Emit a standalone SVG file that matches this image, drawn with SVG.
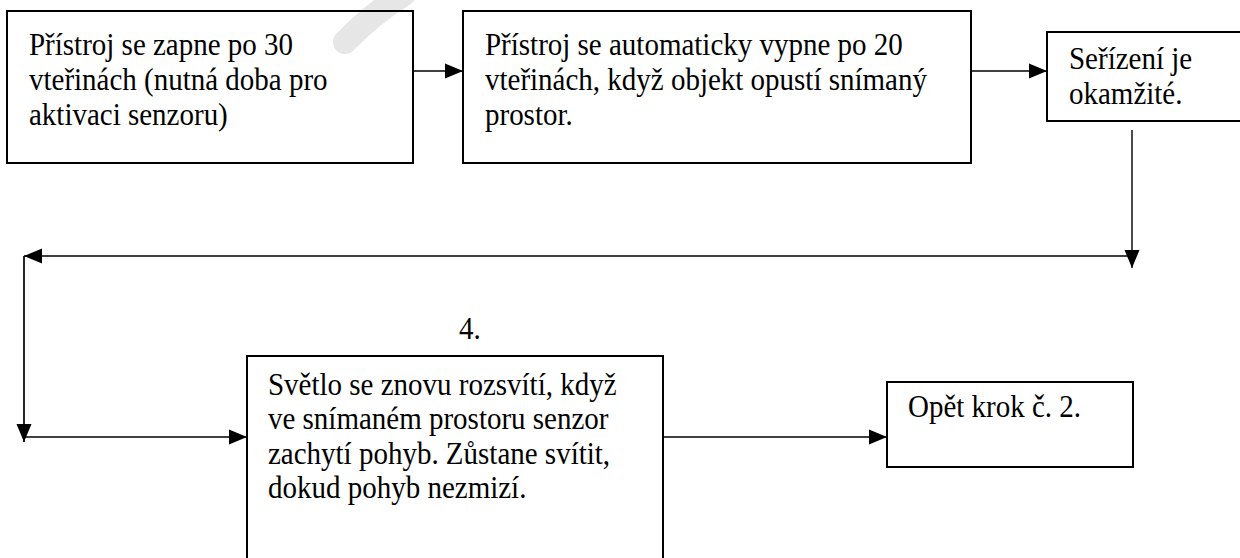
<svg xmlns="http://www.w3.org/2000/svg" width="1240" height="558" viewBox="0 0 1240 558">
<style>
.box{fill:none;stroke:#000;stroke-width:2}
.t{font-size:29px;fill:#000}
.c{fill:none;stroke:#000;stroke-width:1.7}
.thin{stroke-width:1.4}
</style>
<defs>
<marker id="ah" markerUnits="userSpaceOnUse" markerWidth="18" markerHeight="18" viewBox="0 0 18 18" refX="18" refY="9" orient="auto">
<path d="M0,1.5 L18,9 L0,16.5 Z" fill="#000"/>
</marker>
</defs>
<rect width="1240" height="558" fill="#fff"/>
<path d="M345 42 Q372 14 404 -6" fill="none" stroke="#e6e6e6" stroke-width="24" stroke-linecap="round"/>
<g font-family="Liberation Serif, Tinos, 'DejaVu Serif', serif">
<g id="n1">
<rect class="box" x="7" y="11" width="406" height="152"/>
<text class="t" x="29" y="55" transform="matrix(1 0 0 1.07 0 -3.85)">Přístroj se zapne po 30</text>
<text class="t" x="29" y="90" transform="matrix(1 0 0 1.07 0 -6.3)">vteřinách (nutná doba pro</text>
<text class="t" x="29" y="125" transform="matrix(1 0 0 1.07 0 -8.75)">aktivaci senzoru)</text>
</g>
<g id="n2">
<rect class="box" x="463" y="11" width="508" height="152"/>
<text class="t" x="485" y="55" transform="matrix(1 0 0 1.07 0 -3.85)">Přístroj se automaticky vypne po 20</text>
<text class="t" x="485" y="90" transform="matrix(1 0 0 1.07 0 -6.3)">vteřinách, když objekt opustí snímaný</text>
<text class="t" x="485" y="125" transform="matrix(1 0 0 1.07 0 -8.75)">prostor.</text>
</g>
<g id="n3">
<rect class="box" x="1047" y="32" width="210" height="89"/>
<text class="t" x="1069" y="69" transform="matrix(1 0 0 1.07 0 -4.83)">Seřízení je</text>
<text class="t" x="1069" y="104" transform="matrix(1 0 0 1.07 0 -7.28)">okamžité.</text>
</g>
<g id="label4">
<text class="t" x="459" y="339" transform="matrix(1 0 0 1.07 0 -23.73)">4.</text>
</g>
<g id="n4">
<rect class="box" x="247" y="356" width="416" height="220"/>
<text class="t" x="268" y="395" transform="matrix(1 0 0 1.07 0 -27.65)">Světlo se znovu rozsvítí, když</text>
<text class="t" x="268" y="429" transform="matrix(1 0 0 1.07 0 -30.03)">ve snímaném prostoru senzor</text>
<text class="t" x="268" y="464" transform="matrix(1 0 0 1.07 0 -32.48)">zachytí pohyb. Zůstane svítit,</text>
<text class="t" x="268" y="498" transform="matrix(1 0 0 1.07 0 -34.86)">dokud pohyb nezmizí.</text>
</g>
<g id="n5">
<rect class="box" x="887" y="382" width="246" height="85"/>
<text class="t" x="908" y="417" transform="matrix(1 0 0 1.07 0 -29.19)">Opět krok č. 2.</text>
</g>
</g>
<g id="connectors">
<line class="c" x1="413" y1="71" x2="463" y2="71" marker-end="url(#ah)"/>
<line class="c" x1="971" y1="71" x2="1047" y2="71" marker-end="url(#ah)"/>
<line class="c thin" x1="1132" y1="130" x2="1132" y2="268" marker-end="url(#ah)"/>
<line class="c" x1="1132" y1="256" x2="24" y2="256" marker-end="url(#ah)"/>
<line class="c" x1="24" y1="256" x2="24" y2="442" marker-end="url(#ah)"/>
<line class="c" x1="24" y1="437" x2="247" y2="437" marker-end="url(#ah)"/>
<line class="c thin" x1="663" y1="437" x2="887" y2="437" marker-end="url(#ah)"/>
</g>
</svg>
